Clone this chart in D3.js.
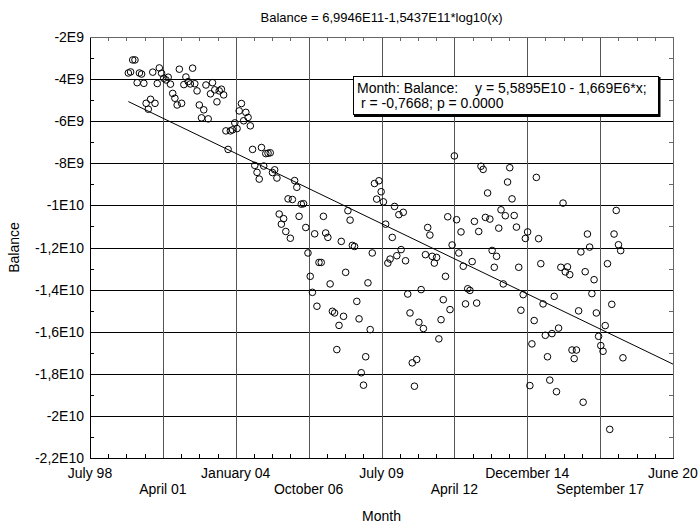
<!DOCTYPE html>
<html lang="en">
<head>
<meta charset="UTF-8">
<script src="https://cdnjs.cloudflare.com/ajax/libs/d3/7.8.5/d3.min.js"></script>
<title>Balance</title>
<style>
    body { margin: 0; background: #fff; }
    text { font-family: "Liberation Sans", Arial, sans-serif; fill: #000; }
</style>
</head>
<body>
<script>
    // monthly balance, starting January 2000, in units of 1E9
    var firstMonth = [2000, 0];
    var balance = [
        -3.71, -3.66, -3.09, -3.09, -4.17, -3.71, -3.76, -4.20, -5.15, -5.43, -4.96, -3.67,
        -5.15, -4.21, -3.47, -3.72, -3.96, -4.04, -3.91, -4.24, -4.68, -4.91, -5.23, -3.53,
        -5.15, -4.26, -3.90, -4.12, -4.23, -3.48, -4.22, -4.56, -5.23, -5.84, -5.46,
        -4.28, -5.89, -4.70, -4.17, -4.51, -5.08, -4.56, -4.48, -4.75, -6.46, -7.34, -6.46,
        -6.41, -6.08, -6.35, -5.51, -5.16, -5.98, -5.58, -5.82, -6.22, -7.34, -8.10, -8.43,
        -8.75, -7.25, -8.13, -7.54, -7.52, -7.50, -8.44, -8.31, -8.70, -10.41, -10.89,
        -10.63, -11.24, -9.69, -11.56, -9.72, -8.82, -9.14, -10.52, -9.94, -9.92, -11.05, -12.26,
        -13.37, -14.13, -11.35, -14.79, -12.71, -12.71, -10.52, -11.31, -11.52, -13.73, -15.03, -15.11,
        -16.85, -15.70, -11.71, -15.27, -13.18, -10.25, -10.70, -11.90, -11.95, -14.56, -15.39,
        -17.95, -18.54, -17.19, -13.68, -15.90, -12.26, -8.96, -9.70, -8.83, -9.35, -9.83, -10.89,
        -12.74, -12.55, -11.52, -10.05, -12.39, -10.44, -12.10, -10.33, -12.63, -14.21, -15.11, -17.48,
        -18.59, -17.32, -15.55, -14.00, -15.85,
        -12.34, -11.05, -11.41, -12.42, -12.74, -12.47, -16.34, -15.43, -14.48, -13.37, -10.54, -14.95,
        -11.88, -7.65, -10.68, -12.26, -11.26, -12.89, -14.68, -13.96, -14.04, -12.67, -10.76, -14.64,
        -11.24, -8.14, -8.29,
        -10.57, -9.41, -10.65, -12.14, -12.94, -12.42, -11.08, -10.21, -13.73, -10.49, -8.89, -8.21,
        -9.69, -10.48, -11.03, -12.94, -14.98, -14.24, -11.57, -11.26, -18.56, -16.58, -15.47, -8.67,
        -11.58, -12.77, -14.68, -16.17, -17.19, -18.30, -16.09, -14.32, -18.85, -15.83, -12.94, -9.89,
        -13.16, -12.92, -13.29, -16.87, -17.28, -16.87, -15.01, -12.21, -19.35, -13.15, -11.36, -11.98,
        -14.19, -13.53, -15.11, -16.22, -16.66, -16.93, -15.71, -12.77, -20.64, -14.70, -11.36, -10.24,
        -11.87, -12.15, -17.24
    ];

    // x axis works in spreadsheet day numbers (days since 1899-12-30)
    var xTicks = [36000, 37000, 38000, 39000, 40000, 41000, 42000, 43000, 44000];
    var xTickLabels = ["July 98", "April 01", "January 04", "October 06", "July 09",
        "April 12", "December 14", "September 17", "June 20"];
    var yTicks = [-2, -4, -6, -8, -10, -12, -14, -16, -18, -20, -22];
    var yTickLabels = ["-2E9", "-4E9", "-6E9", "-8E9", "-1E10", "-1,2E10", "-1,4E10",
        "-1,6E10", "-1,8E10", "-2E10", "-2,2E10"];

    // linear fit from the legend: y = 5,5895E10 - 1,669E6*x
    var fitIntercept = 5.5895e10;
    var fitSlope = -1.669e6;

    var titleText = "Balance = 6,9946E11-1,5437E11*log10(x)";
    var legendLine1 = "Month: Balance:";
    var legendLine1b = "y = 5,5895E10 - 1,669E6*x;";
    var legendLine2 = "r = -0,7668; p = 0.0000";

    var width = 700, height = 525;
    var pLeft = 90, pRight = 673, pTop = 37, pBottom = 458;

    function daySerial(i) {
        return (Date.UTC(firstMonth[0], firstMonth[1] + i, 1) - Date.UTC(1899, 11, 30)) / 864e5;
    }
    var points = balance.map(function (v, i) { return { x: daySerial(i), y: v }; });

    var x = d3.scaleLinear().domain([xTicks[0], xTicks[xTicks.length - 1]]).range([pLeft, pRight]);
    var y = d3.scaleLinear().domain([yTicks[yTicks.length - 1], yTicks[0]]).range([pBottom, pTop]);

    var svg = d3.select('body').append('svg')
        .attr('width', width)
        .attr('height', height);

    function px(v) { return Math.round(v) + 0.5; }

    // grid
    svg.append('g').selectAll('line')
        .data(yTicks.slice(1, -1))
        .enter().append('line')
        .attr('x1', pLeft).attr('x2', pRight)
        .attr('y1', function (d) { return px(y(d)); })
        .attr('y2', function (d) { return px(y(d)); })
        .attr('stroke', '#000').attr('stroke-width', 1);
    svg.append('g').selectAll('line')
        .data(xTicks.slice(1, -1))
        .enter().append('line')
        .attr('y1', pTop).attr('y2', pBottom)
        .attr('x1', function (d) { return px(x(d)); })
        .attr('x2', function (d) { return px(x(d)); })
        .attr('stroke', '#555').attr('stroke-width', 1);

    // minor ticks (inside)
    var xMinor = d3.range(xTicks[0], xTicks[xTicks.length - 1], 250).filter(function (d) { return d % 1000 !== 0; });
    var yMinor = yTicks.slice(1).map(function (d) { return d + 1; });
    var ticks = svg.append('g').attr('stroke', '#000').attr('stroke-width', 1);
    xMinor.forEach(function (d) {
        ticks.append('line').attr('x1', px(x(d))).attr('x2', px(x(d))).attr('y1', pBottom).attr('y2', pBottom - 4);
        ticks.append('line').attr('x1', px(x(d))).attr('x2', px(x(d))).attr('y1', pTop).attr('y2', pTop + 4).attr('stroke', '#666');
    });
    yMinor.forEach(function (d) {
        ticks.append('line').attr('y1', px(y(d))).attr('y2', px(y(d))).attr('x1', pLeft).attr('x2', pLeft + 4);
        ticks.append('line').attr('y1', px(y(d))).attr('y2', px(y(d))).attr('x1', pRight).attr('x2', pRight - 4).attr('stroke', '#666');
    });

    // frame
    svg.append('line').attr('x1', px(pLeft)).attr('x2', px(pLeft)).attr('y1', pTop).attr('y2', pBottom + 1).attr('stroke', '#000');
    svg.append('line').attr('x1', pLeft).attr('x2', pRight + 1).attr('y1', px(pBottom)).attr('y2', px(pBottom)).attr('stroke', '#000');
    svg.append('line').attr('x1', pLeft).attr('x2', pRight + 1).attr('y1', px(pTop)).attr('y2', px(pTop)).attr('stroke', '#666');
    svg.append('line').attr('x1', px(pRight)).attr('x2', px(pRight)).attr('y1', pTop).attr('y2', pBottom).attr('stroke', '#666');

    // tick labels
    svg.append('g').selectAll('text')
        .data(yTicks)
        .enter().append('text')
        .attr('x', 84)
        .attr('y', function (d) { return y(d) + 5; })
        .attr('text-anchor', 'end')
        .attr('font-size', 14)
        .text(function (d, i) { return yTickLabels[i]; });
    svg.append('g').selectAll('text')
        .data(xTicks)
        .enter().append('text')
        .attr('x', function (d) { return x(d); })
        .attr('y', function (d, i) { return i % 2 === 0 ? 478 : 494; })
        .attr('text-anchor', 'middle')
        .attr('font-size', 14)
        .text(function (d, i) { return xTickLabels[i]; });

    // titles
    svg.append('text').attr('x', (pLeft + pRight) / 2).attr('y', 22)
        .attr('text-anchor', 'middle').attr('font-size', 13).text(titleText);
    svg.append('text').attr('x', (pLeft + pRight) / 2).attr('y', 521)
        .attr('text-anchor', 'middle').attr('font-size', 14).text('Month');
    svg.append('text')
        .attr('transform', 'translate(19,' + (pTop + pBottom) / 2 + ') rotate(-90)')
        .attr('text-anchor', 'middle').attr('font-size', 14).text('Balance');

    // fitted line
    var fitX = [points[0].x, xTicks[xTicks.length - 1]];
    svg.append('line')
        .attr('x1', x(fitX[0])).attr('y1', y((fitIntercept + fitSlope * fitX[0]) / 1e9))
        .attr('x2', x(fitX[1])).attr('y2', y((fitIntercept + fitSlope * fitX[1]) / 1e9))
        .attr('stroke', '#000').attr('stroke-width', 1);

    // points
    svg.append('g').selectAll('circle')
        .data(points)
        .enter().append('circle')
        .attr('cx', function (d) { return x(d.x); })
        .attr('cy', function (d) { return y(d.y); })
        .attr('r', 3.3)
        .attr('fill', 'none')
        .attr('stroke', '#000')
        .attr('stroke-width', 1);

    // legend box
    var box = svg.append('g').attr('transform', 'translate(353,76)');
    box.append('rect').attr('x', 0.5).attr('y', 0.5).attr('width', 305).attr('height', 38)
        .attr('fill', '#fff').attr('stroke', '#000').attr('stroke-width', 1);
    box.append('path').attr('d', 'M306.5,1V40H1').attr('fill', 'none').attr('stroke', '#000').attr('stroke-width', 2);
    box.append('text').attr('x', 4).attr('y', 17).attr('font-size', 14).text(legendLine1);
    box.append('text').attr('x', 122).attr('y', 17).attr('font-size', 14).text(legendLine1b);
    box.append('text').attr('x', 8).attr('y', 32).attr('font-size', 14).text(legendLine2);
</script>
</body>
</html>
